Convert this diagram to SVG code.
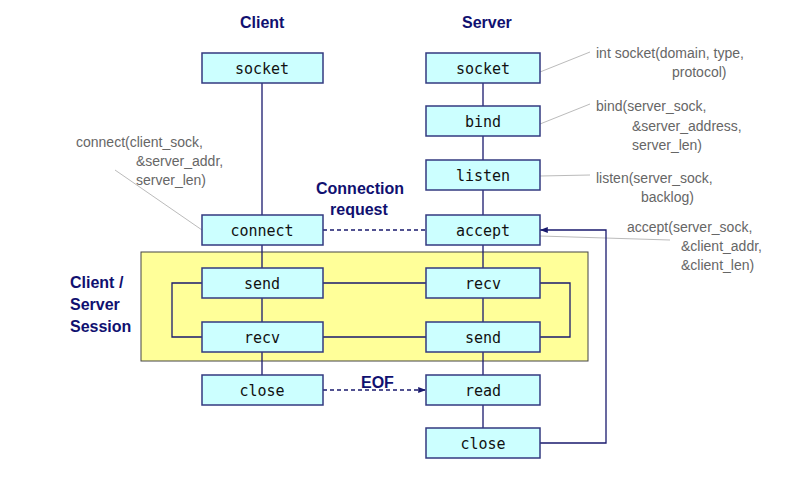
<svg xmlns="http://www.w3.org/2000/svg" width="797" height="479" viewBox="0 0 797 479">
<style>
.b{fill:#ccffff;stroke:#333a80;stroke-width:1.5}
.t{font-family:"DejaVu Sans Mono",monospace;font-size:15px;fill:#111;text-anchor:middle}
.h{font-family:"Liberation Sans",Arial,sans-serif;font-weight:bold;font-size:16px;fill:#101070}
.g{font-family:"Liberation Sans",Arial,sans-serif;font-size:14px;fill:#666}
.l{stroke:#1a1a6e;stroke-width:1.3;fill:none}
.gl{stroke:#bbb;stroke-width:1;fill:none}
</style>
<defs><marker id="a" viewBox="0 0 10 10" refX="10" refY="5" markerWidth="6" markerHeight="6" orient="auto"><path d="M0,1L10,5L0,9z" fill="#1a1a6e"/></marker></defs>
<rect width="797" height="479" fill="#fff"/>
<rect x="141" y="252" width="447" height="109" fill="#ffff99" stroke="#444" stroke-width="1"/>
<text class="h" x="240" y="28">Client</text>
<text class="h" x="462" y="28">Server</text>
<text class="h" x="70" y="288">Client /</text>
<text class="h" x="70" y="310">Server</text>
<text class="h" x="70" y="332">Session</text>
<text class="h" x="316" y="194">Connection</text>
<text class="h" x="330" y="215">request</text>
<text class="h" x="361" y="388" font-size="14">EOF</text>
<g id="notes">
<text class="g" x="596" y="58">int socket(domain, type,</text>
<text class="g" x="672" y="77">protocol)</text>
<text class="g" x="596" y="111">bind(server_sock,</text>
<text class="g" x="632" y="131">&amp;server_address,</text>
<text class="g" x="632" y="150">server_len)</text>
<text class="g" x="596" y="183">listen(server_sock,</text>
<text class="g" x="641" y="202">backlog)</text>
<text class="g" x="627" y="232">accept(server_sock,</text>
<text class="g" x="681" y="251">&amp;client_addr,</text>
<text class="g" x="681" y="270">&amp;client_len)</text>
<text class="g" x="76" y="147">connect(client_sock,</text>
<text class="g" x="136" y="166">&amp;server_addr,</text>
<text class="g" x="136" y="185">server_len)</text>
<path class="gl" d="M540,72L590,52M540,124L590,104M540,176L590,175M540,236L670,240M202,230L115,170"/>
</g>
<g id="connectors">
<path class="l" marker-end="url(#a)" d="M262,83V215M262,245V268M262,298V322M262,352V375M483,83V106M483,136V160M483,190V215M483,245V268M483,298V322M483,352V375M483,405V428M323,283H426M426,337H323M202,337H172V283H202M540,337H570V283H540M540,443H606V230H540"/>
<path class="l" stroke-dasharray="4,3" marker-end="url(#a)" d="M323,230H426M323,390H426"/>
</g>
<g id="c-socket"><rect class="b" x="202" y="53" width="121" height="30"/><text class="t" x="262" y="74">socket</text></g>
<g id="c-connect"><rect class="b" x="202" y="215" width="121" height="30"/><text class="t" x="262" y="236">connect</text></g>
<g id="c-send"><rect class="b" x="202" y="268" width="121" height="30"/><text class="t" x="262" y="289">send</text></g>
<g id="c-recv"><rect class="b" x="202" y="322" width="121" height="30"/><text class="t" x="262" y="343">recv</text></g>
<g id="c-close"><rect class="b" x="202" y="375" width="121" height="30"/><text class="t" x="262" y="396">close</text></g>
<g id="s-socket"><rect class="b" x="426" y="53" width="114" height="30"/><text class="t" x="483" y="74">socket</text></g>
<g id="s-bind"><rect class="b" x="426" y="106" width="114" height="30"/><text class="t" x="483" y="127">bind</text></g>
<g id="s-listen"><rect class="b" x="426" y="160" width="114" height="30"/><text class="t" x="483" y="181">listen</text></g>
<g id="s-accept"><rect class="b" x="426" y="215" width="114" height="30"/><text class="t" x="483" y="236">accept</text></g>
<g id="s-recv"><rect class="b" x="426" y="268" width="114" height="30"/><text class="t" x="483" y="289">recv</text></g>
<g id="s-send"><rect class="b" x="426" y="322" width="114" height="30"/><text class="t" x="483" y="343">send</text></g>
<g id="s-read"><rect class="b" x="426" y="375" width="114" height="30"/><text class="t" x="483" y="396">read</text></g>
<g id="s-close"><rect class="b" x="426" y="428" width="114" height="30"/><text class="t" x="483" y="449">close</text></g>
</svg>
